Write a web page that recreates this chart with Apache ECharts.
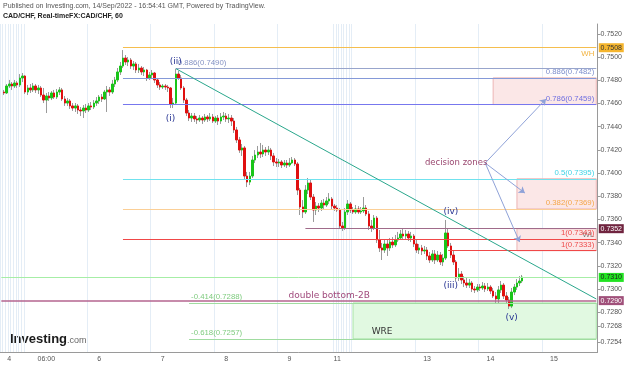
<!DOCTYPE html>
<html>
<head>
<meta charset="utf-8">
<script src="https://cdn.jsdelivr.net/npm/echarts@6/dist/echarts.min.js"></script>
<style>html,body{margin:0;padding:0;background:#fff}#box{width:625px;height:366px}</style>
</head>
<body>
<div id="box"></div>
<script>
// CAD/CHF 60 min, Sep 4 - Sep 14 2022, bars as [open, close, low, high]
var candles = [
[0.74698,0.74690,0.74672,0.74716],[0.74690,0.74750,0.74681,0.74767],[0.74750,0.74767,0.74733,0.74802],[0.74767,0.74750,0.74716,0.74784],
[0.74750,0.74776,0.74733,0.74802],[0.74776,0.74759,0.74733,0.74793],[0.74759,0.74819,0.74741,0.74853],[0.74819,0.74836,0.74784,0.74862],
[0.74836,0.74698,0.74681,0.74845],[0.74698,0.74733,0.74672,0.74759],[0.74733,0.74716,0.74690,0.74767],[0.74716,0.74750,0.74698,0.74776],
[0.74750,0.74716,0.74690,0.74767],[0.74716,0.74733,0.74681,0.74759],[0.74733,0.74672,0.74655,0.74750],[0.74672,0.74629,0.74603,0.74733],
[0.74629,0.74664,0.74517,0.74690],[0.74664,0.74647,0.74621,0.74698],[0.74647,0.74690,0.74629,0.74707],[0.74690,0.74655,0.74638,0.74716],
[0.74655,0.74698,0.74638,0.74724],[0.74698,0.74716,0.74672,0.74741],[0.74716,0.74638,0.74621,0.74733],[0.74638,0.74603,0.74578,0.74664],
[0.74603,0.74621,0.74578,0.74647],[0.74621,0.74578,0.74552,0.74638],[0.74578,0.74560,0.74535,0.74603],[0.74560,0.74578,0.74526,0.74603],
[0.74578,0.74543,0.74509,0.74595],[0.74543,0.74535,0.74491,0.74569],[0.74535,0.74560,0.74474,0.74586],[0.74560,0.74543,0.74517,0.74595],
[0.74543,0.74578,0.74526,0.74603],[0.74578,0.74569,0.74543,0.74612],[0.74569,0.74603,0.74552,0.74629],[0.74603,0.74621,0.74578,0.74655],
[0.74621,0.74655,0.74595,0.74672],[0.74655,0.74638,0.74612,0.74681],[0.74638,0.74698,0.74629,0.74716],[0.74698,0.74716,0.74526,0.74750],
[0.74716,0.74698,0.74664,0.74741],[0.74698,0.74767,0.74681,0.74802],[0.74767,0.74802,0.74741,0.74828],[0.74802,0.74871,0.74784,0.74905],
[0.74871,0.74922,0.74845,0.74957],[0.74922,0.74991,0.74905,0.75060],[0.74991,0.74957,0.74931,0.75017],[0.74957,0.74974,0.74922,0.75000],
[0.74974,0.74922,0.74897,0.74991],[0.74922,0.74940,0.74888,0.74965],[0.74940,0.74888,0.74862,0.74957],[0.74888,0.74905,0.74862,0.74940],
[0.74905,0.74871,0.74845,0.74922],[0.74871,0.74888,0.74836,0.74914],[0.74888,0.74819,0.74793,0.74897],[0.74819,0.74845,0.74802,0.74871],
[0.74845,0.74862,0.74819,0.74888],[0.74862,0.74802,0.74776,0.74871],[0.74802,0.74759,0.74733,0.74819],[0.74759,0.74741,0.74716,0.74784],
[0.74741,0.74750,0.74724,0.74767],[0.74750,0.74741,0.74716,0.74767],[0.74741,0.74733,0.74698,0.74759],[0.74733,0.74595,0.74560,0.74741],
[0.74595,0.74603,0.74560,0.74647],[0.74603,0.74853,0.74586,0.74897],[0.74853,0.74819,0.74802,0.74879],[0.74819,0.74733,0.74716,0.74845],
[0.74733,0.74629,0.74603,0.74750],[0.74629,0.74517,0.74491,0.74647],[0.74517,0.74474,0.74448,0.74543],[0.74474,0.74491,0.74440,0.74517],
[0.74491,0.74466,0.74440,0.74517],[0.74466,0.74457,0.74423,0.74491],[0.74457,0.74474,0.74440,0.74500],[0.74474,0.74457,0.74423,0.74491],
[0.74457,0.74483,0.74440,0.74509],[0.74483,0.74466,0.74440,0.74500],[0.74466,0.74483,0.74448,0.74517],[0.74483,0.74448,0.74431,0.74509],
[0.74448,0.74474,0.74431,0.74491],[0.74474,0.74448,0.74414,0.74500],[0.74448,0.74483,0.74423,0.74517],[0.74483,0.74491,0.74457,0.74526],
[0.74491,0.74466,0.74440,0.74517],[0.74466,0.74474,0.74431,0.74509],[0.74474,0.74448,0.74405,0.74500],[0.74448,0.74371,0.74345,0.74474],
[0.74371,0.74285,0.74259,0.74397],[0.74285,0.74198,0.74173,0.74311],[0.74198,0.74216,0.74147,0.74250],[0.74216,0.73974,0.73940,0.74233],
[0.73974,0.73922,0.73879,0.74009],[0.73922,0.73974,0.73896,0.74009],[0.73974,0.74112,0.73957,0.74147],[0.74112,0.74155,0.74086,0.74198],
[0.74155,0.74181,0.74129,0.74233],[0.74181,0.74164,0.74129,0.74259],[0.74164,0.74198,0.74138,0.74242],[0.74198,0.74181,0.74147,0.74224],
[0.74181,0.74198,0.74155,0.74233],[0.74198,0.74147,0.74112,0.74216],[0.74147,0.74095,0.74060,0.74173],[0.74095,0.74086,0.74052,0.74129],
[0.74086,0.74095,0.74052,0.74121],[0.74095,0.74069,0.74043,0.74112],[0.74069,0.74086,0.74052,0.74112],[0.74086,0.74069,0.74043,0.74112],
[0.74069,0.74086,0.74052,0.74129],[0.74086,0.74112,0.74078,0.74138],[0.74112,0.74078,0.74060,0.74129],[0.74078,0.73853,0.73810,0.74095],
[0.73853,0.73707,0.73638,0.73871],[0.73707,0.73664,0.73612,0.73767],[0.73664,0.73853,0.73647,0.73896],[0.73853,0.73914,0.73819,0.73957],
[0.73914,0.73793,0.73767,0.73940],[0.73793,0.73681,0.73578,0.73819],[0.73681,0.73715,0.73638,0.73750],[0.73715,0.73698,0.73664,0.73741],
[0.73698,0.73741,0.73673,0.73767],[0.73741,0.73724,0.73690,0.73776],[0.73724,0.73759,0.73707,0.73793],[0.73759,0.73776,0.73733,0.73827],
[0.73776,0.73715,0.73681,0.73793],[0.73715,0.73698,0.73673,0.73733],[0.73698,0.73681,0.73664,0.73724],[0.73681,0.73543,0.73517,0.73698],
[0.73543,0.73526,0.73500,0.73578],[0.73526,0.73664,0.73509,0.73698],[0.73664,0.73733,0.73638,0.73767],[0.73733,0.73681,0.73655,0.73750],
[0.73681,0.73664,0.73647,0.73707],[0.73664,0.73690,0.73647,0.73724],[0.73690,0.73664,0.73647,0.73715],[0.73664,0.73673,0.73647,0.73707],
[0.73673,0.73698,0.73655,0.73793],[0.73698,0.73647,0.73629,0.73724],[0.73647,0.73543,0.73509,0.73673],[0.73543,0.73526,0.73492,0.73595],
[0.73526,0.73612,0.73509,0.73638],[0.73612,0.73423,0.73397,0.73629],[0.73423,0.73354,0.73319,0.73509],[0.73354,0.73336,0.73250,0.73397],
[0.73336,0.73388,0.73311,0.73423],[0.73388,0.73354,0.73285,0.73423],[0.73354,0.73405,0.73328,0.73440],[0.73405,0.73380,0.73354,0.73448],
[0.73380,0.73423,0.73362,0.73466],[0.73423,0.73440,0.73405,0.73492],[0.73440,0.73474,0.73423,0.73509],[0.73474,0.73457,0.73431,0.73526],
[0.73457,0.73474,0.73423,0.73509],[0.73474,0.73440,0.73414,0.73500],[0.73440,0.73457,0.73405,0.73492],[0.73457,0.73388,0.73362,0.73474],
[0.73388,0.73336,0.73311,0.73423],[0.73336,0.73354,0.73302,0.73388],[0.73354,0.73328,0.73293,0.73380],[0.73328,0.73336,0.73302,0.73371],
[0.73336,0.73285,0.73250,0.73362],[0.73285,0.73250,0.73224,0.73319],[0.73250,0.73302,0.73233,0.73336],[0.73302,0.73250,0.73216,0.73336],
[0.73250,0.73293,0.73233,0.73328],[0.73293,0.73233,0.73207,0.73319],[0.73233,0.73267,0.73198,0.73302],[0.73267,0.73483,0.73250,0.73595],
[0.73483,0.73371,0.73354,0.73517],[0.73371,0.73293,0.73267,0.73397],[0.73293,0.73233,0.73207,0.73328],[0.73233,0.73095,0.73069,0.73250],
[0.73095,0.73129,0.73069,0.73181],[0.73129,0.73078,0.73043,0.73155],[0.73078,0.73052,0.73017,0.73112],[0.73052,0.73034,0.73009,0.73095],
[0.73034,0.73052,0.73009,0.73086],[0.73052,0.73000,0.72974,0.73069],[0.73000,0.72992,0.72966,0.73026],[0.72992,0.73017,0.72974,0.73043],
[0.73017,0.73009,0.72983,0.73043],[0.73009,0.73026,0.72992,0.73060],[0.73026,0.73000,0.72974,0.73052],[0.73000,0.73017,0.72983,0.73052],
[0.73017,0.72983,0.72957,0.73034],[0.72983,0.72940,0.72923,0.73009],[0.72940,0.72914,0.72879,0.72974],[0.72914,0.72992,0.72879,0.73026],
[0.72992,0.73034,0.72966,0.73069],[0.73034,0.72940,0.72914,0.73052],[0.72940,0.72905,0.72879,0.72974],[0.72905,0.72853,0.72828,0.72931],
[0.72853,0.72974,0.72836,0.73009],[0.72974,0.73017,0.72948,0.73043],[0.73017,0.73052,0.72992,0.73086],[0.73052,0.73069,0.73026,0.73112],
[0.73069,0.73103,0.73052,0.73121]
];

// right axis tick labels
var yTicks = [0.7520, 0.7500, 0.7480, 0.7460, 0.7440, 0.7420, 0.7400, 0.7380, 0.7360, 0.7340, 0.7320, 0.7300, 0.7280, 0.7268, 0.7254];

// bottom axis labels, keyed by hourly category
var xLabels = {
    '09-04 18': '4', '09-05 08': '06:00', '09-06 04': '6', '09-07 04': '7', '09-08 04': '8',
    '09-09 04': '9', '09-11 18': '11', '09-13 04': '13', '09-14 04': '14', '09-15 04': '15'
};

// hourly categories, weekend removed (market shut Fri 21:00 -> Sun 17:00)
var categories = ['09-04 15', '09-04 16'];
var t = Date.UTC(2022, 8, 4, 17);
while (categories.length < 226) {
    var d = new Date(t);
    var wd = d.getUTCDay(), h = d.getUTCHours();
    var shut = (wd === 5 && h >= 21) || wd === 6 || (wd === 0 && h < 17);
    if (!shut) {
        categories.push(('0' + (d.getUTCMonth() + 1)).slice(-2) + '-' + ('0' + d.getUTCDate()).slice(-2) + ' ' + ('0' + h).slice(-2));
    }
    t += 3600000;
}
var firstBar = 1;
var last = categories.length - 1;

// drawn levels: [startBar, price, text, lineColor, textColor, labelPos]
var levels = [
    [46, 0.7508, 'WH', '#f5be4e', '#f2b23e', 'insideEndBottom'],
    [66, 0.7490, '0.886(0.7490)', '#98a5cc', '#8593c4', 'insideStartTop'],
    [46, 0.7482, '0.886(0.7482)', '#8599d8', '#7e8fcc', 'insideEndTop'],
    [46, 0.7459, '0.786(0.7459)', '#7777ee', '#7070e0', 'insideEndTop'],
    [46, 0.7395, '0.5(0.7395)', '#70e2ee', '#3fd3e6', 'insideEndTop'],
    [46, 0.7369, '0.382(0.7369)', '#fbcf96', '#f4a64a', 'insideEndTop'],
    [115, 0.7352, 'WL', '#a06b8a', '#777777', 'insideEndBottom'],
    [46, 0.7343, '1(0.7343)', '#f04848', '#ee4c4c', 'insideEndTop'],
    [169, 0.7333, '1(0.7333)', '#f04848', '#ee4c4c', 'insideEndTop'],
    [0, 0.7310, '', '#a6eea6', '', ''],
    [0, 0.7290, '', '#b4648f', '', ''],
    [71, 0.7288, '-0.414(0.7288)', '#a0dca0', '#80cc80', 'insideStartTop'],
    [71, 0.7257, '-0.618(0.7257)', '#a0dca0', '#80cc80', 'insideStartTop']
];
// price boxes on the right axis
var priceTags = [
    [0.7508, '#f5b52e', '#333'],
    [0.7352, '#70243f', '#fff'],
    [0.7310, '#22e322', '#222'],
    [0.7290, '#a0507a', '#fff']
];
// zones: [bar1, price1, bar2, price2, fill, border]
var zones = [
    [186, 0.7482, last, 0.7459, '#fbe7e7', '#ecb4b4'],
    [195, 0.7395, last, 0.7369, '#fbe7e7', '#ecb4b4'],
    [195, 0.7352, last, 0.7333, '#fbe7e7', '#ecb4b4'],
    [133, 0.7288, last, 0.7257, '#e1f9e1', '#a8e4a8']
];
// text notes: [text, bar, price, color, size]
var notes = [
    ['(ii)', 66, 0.74957, '#283593', 9],
    ['(i)', 64, 0.74466, '#283593', 9],
    ['(iv)', 170, 0.73664, '#283593', 9],
    ['(iii)', 170, 0.73026, '#283593', 9],
    ['(v)', 193, 0.72750, '#283593', 9],
    ['decision zones', 172, 0.74086, '#9a4870', 8.5],
    ['double bottom-2B', 124, 0.72940, '#a04a7c', 9],
    ['WRE', 144, 0.72629, '#333333', 9]
];
var trend = [66, 0.7490, last, 0.72914];
var arrows = [
    [183, 0.74086, 206, 0.74638],
    [183, 0.74086, 198, 0.73827],
    [183, 0.74086, 196, 0.73405]
];

var wickData = [];
var bodyData = [];
for (var i = 0; i < firstBar; i++) { wickData.push('-'); bodyData.push('-'); }
candles.forEach(function (c) {
    wickData.push(c);
    bodyData.push([c[0], c[1], Math.min(c[0], c[1]), Math.max(c[0], c[1])]);
});

// one helper series per drawn line, so each keeps its own colour
function drawing(color, pair) {
    return {
        type: 'line', data: [], color: color, silent: true, z: 3,
        markLine: {silent: true, symbol: 'none', animation: false, data: [pair]}
    };
}
var series = [
    {
        name: 'wick',
        type: 'candlestick',
        data: wickData,
        barWidth: 1,
        silent: true,
        itemStyle: {color: '#9a9a9a', color0: '#9a9a9a', borderColor: '#9a9a9a', borderColor0: '#9a9a9a', borderWidth: 1}
    },
    {
        name: 'CAD/CHF',
        type: 'candlestick',
        data: bodyData,
        barWidth: 2,
        silent: true,
        itemStyle: {color: '#19c519', color0: '#e01010', borderColor: '#19c519', borderColor0: '#e01010', borderWidth: 1},
        markArea: {
            silent: true,
            data: zones.map(function (z) {
                return [{coord: [z[0], z[1]], itemStyle: {color: z[4], borderColor: z[5], borderWidth: 1}}, {coord: [z[2], z[3]]}];
            })
        }
    }
];
levels.forEach(function (l) {
    series.push(drawing(l[3], [{
        coord: [l[0], l[1]],
        lineStyle: {color: l[3], width: l[1] === 0.7290 ? 1.5 : 1, type: 'solid', opacity: 1},
        label: l[2] ? {show: true, formatter: l[2], position: l[5], color: l[4], fontSize: 7.8, fontFamily: 'Liberation Sans', distance: 2} : {show: false}
    }, {coord: [last, l[1]]}]));
});
series.push(drawing('#2aa78c', [{coord: [trend[0], trend[1]], lineStyle: {color: '#2aa78c', width: 1, type: 'solid'}, label: {show: false}},
    {coord: [trend[2], trend[3]]}]));
arrows.forEach(function (a) {
    series.push(drawing('#8fa2d8', [{coord: [a[0], a[1]], symbol: 'none', lineStyle: {color: '#8fa2d8', width: 1, type: 'solid'}, label: {show: false}},
        {coord: [a[2], a[3]], symbol: 'arrow', symbolSize: 6}]));
});

var markPoints = notes.map(function (n) {
    return {coord: [n[1], n[2]], symbol: 'circle', symbolSize: 0,
        label: {show: true, position: 'inside', formatter: n[0], color: n[3], fontSize: n[4], fontFamily: 'DejaVu Sans'}};
});
priceTags.forEach(function (p) {
    markPoints.push({coord: [last, p[0]], symbol: 'rect', symbolSize: [25, 9], symbolOffset: [15, 0],
        itemStyle: {color: p[1]},
        label: {show: true, position: 'inside', formatter: p[0].toFixed(4), color: p[2], fontSize: 7, fontFamily: 'Liberation Sans'}});
});
series.push({type: 'line', data: [], silent: true, z: 5, markPoint: {silent: true, animation: false, data: markPoints}});

var myChart = echarts.init(document.getElementById('box'));
var option = {
    animation: false,
    backgroundColor: '#fff',
    grid: {left: 0, right: 26, top: 24, bottom: 14},
    graphic: [
        {type: 'text', left: 3, top: 3, style: {text: 'Published on Investing.com, 14/Sep/2022 - 16:54:41 GMT, Powered by TradingView.', fontSize: 7, fill: '#555', fontFamily: 'Liberation Sans'}},
        {type: 'text', left: 3, top: 13, style: {text: 'CAD/CHF, Real-timeFX:CAD/CHF, 60', fontSize: 7, fontWeight: 'bold', fill: '#222', fontFamily: 'Liberation Sans'}},
        {type: 'text', left: 10, top: 333, style: {
            text: '{a|Investing}{b|.com}',
            rich: {a: {fontSize: 13, fontWeight: 'bold', fill: '#1a1a1a', fontFamily: 'Liberation Sans'},
                   b: {fontSize: 9, fill: '#666', fontFamily: 'Liberation Sans', padding: [3, 0, 0, 0]}}
        }}
    ],
    xAxis: {
        type: 'category',
        data: categories,
        boundaryGap: true,
        axisLine: {lineStyle: {color: '#9a9a9a'}},
        axisTick: {
            alignWithLabel: true, length: 3, lineStyle: {color: '#9a9a9a'},
            interval: function (idx, val) { return xLabels[val] !== undefined; }
        },
        axisLabel: {
            interval: function (idx, val) { return xLabels[val] !== undefined; },
            formatter: function (val) { return xLabels[val] || ''; },
            fontSize: 7, color: '#555', margin: 4, fontFamily: 'Liberation Sans'
        },
        splitLine: {
            show: true,
            interval: function (idx, val) {
                var hh = val.slice(-2);
                return hh === '00' || val.slice(0, 5) === '09-04' || val.slice(0, 5) === '09-11';
            },
            lineStyle: {color: '#e4edf6', width: 1}
        }
    },
    yAxis: {
        type: 'value',
        position: 'right',
        min: 0.724571,
        max: 0.752844,
        scale: true,
        splitLine: {show: false},
        axisLine: {show: true, lineStyle: {color: '#9a9a9a'}},
        axisTick: {show: true, customValues: yTicks, length: 3, lineStyle: {color: '#9a9a9a'}},
        axisLabel: {customValues: yTicks, formatter: function (v) { return v.toFixed(4); }, fontSize: 7, color: '#555', margin: 3, fontFamily: 'Liberation Sans'}
    },
    series: series
};
myChart.setOption(option);
</script>
</body>
</html>
